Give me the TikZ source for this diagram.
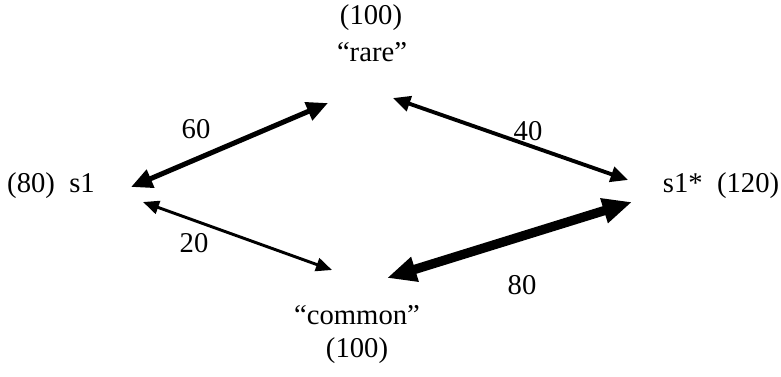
\documentclass[tikz,border=0pt]{standalone}
\usepackage{fontspec}
\setmainfont{Liberation Serif}
\usetikzlibrary{arrows.meta}
\begin{document}
\begin{tikzpicture}[x=0.75pt,y=-0.75pt,
  lbl/.style={font=\fontsize{21.5}{25}\selectfont, inner sep=0pt},
  arr/.style n args={3}{line width=#1, {Triangle[length=#2,width=#3]}-{Triangle[length=#2,width=#3]}}]
\useasboundingbox (0,0) rectangle (781,376);
% state labels
\node[lbl] (rareval) at (371,18) {(100)};
\node[lbl] (rare) at (372,52) {“rare”};
\node[lbl] (s1) at (51,186) {(80)\ \ s1};
\node[lbl] (s1star) at (721,186) {s1*\ \ (120)};
\node[lbl] (common) at (357,315) {“common”};
\node[lbl] (commonval) at (357,351) {(100)};
% arrow end points
\coordinate (a60s) at (131,187);
\coordinate (a60e) at (328,103);
\coordinate (a40s) at (393,98);
\coordinate (a40e) at (628,180);
\coordinate (a20s) at (143,202);
\coordinate (a20e) at (332,270);
\coordinate (a80s) at (387,278);
\coordinate (a80e) at (632,202);
\draw[arr={3.8pt}{16pt}{14pt}] (a60s) -- (a60e);
\draw[arr={2.9pt}{13pt}{11.5pt}] (a40s) -- (a40e);
\draw[arr={2.2pt}{12pt}{10pt}] (a20s) -- (a20e);
\draw[arr={7pt}{22pt}{18pt}] (a80s) -- (a80e);
% edge labels
\node[lbl] (l60) at (196,129) {60};
\node[lbl] (l40) at (528,131) {40};
\node[lbl] (l20) at (194,243) {20};
\node[lbl] (l80) at (522,285) {80};
\end{tikzpicture}
\end{document}
